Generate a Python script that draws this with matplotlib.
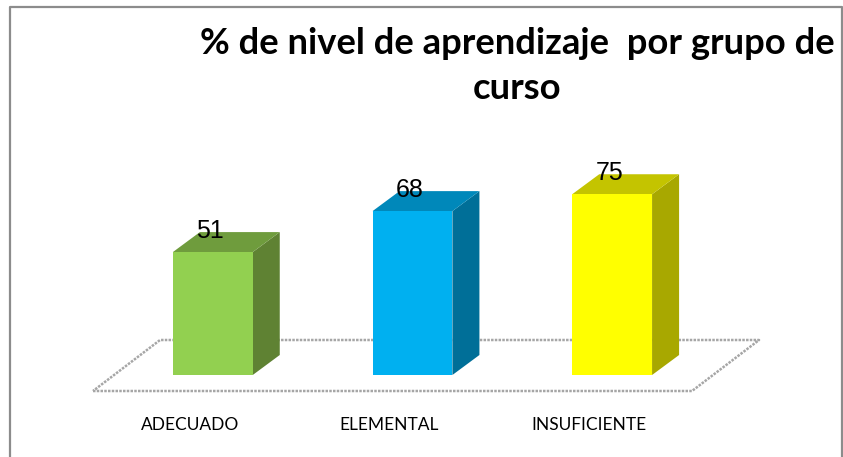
import matplotlib
matplotlib.use("Agg")
import matplotlib.pyplot as plt
from matplotlib.lines import Line2D
from matplotlib.patches import Polygon
from matplotlib.transforms import ScaledTranslation

categories = ["ADECUADO", "ELEMENTAL", "INSUFICIENTE"]
values = [51, 68, 75]
front_colors = ["#92D050", "#00B0F0", "#FFFF00"]
side_colors = ["#5F8233", "#006F98", "#A8A800"]
top_colors = ["#6F9C3D", "#0088BA", "#C4C400"]
title = "% de nivel de aprendizaje  por grupo de\ncurso"

W, H = 843, 457
DPI = 100
BAR_W = 0.4
# size of the fake 3d depth, in data units
DEPTH_X = 27 / 199.5
DEPTH_Y = 20 / 2.41

fig = plt.figure(figsize=(W / DPI, H / DPI), dpi=DPI)
fig.patch.set_facecolor("white")

# axes box runs along the front edge of the floor
ax = fig.add_axes([93 / W, 1 - 391 / H, 599 / W, 241 / H])
ax.set_xlim(-0.6, 2.4)
ax.set_ylim(-16 / 2.41, 225 / 2.41)
ax.patch.set_alpha(0)
for s in ax.spines.values():
    s.set_visible(False)

# floor
x0, x1 = -0.6, 2.4
y0 = -16 / 2.41
fx, fy = 67 / 199.5, 51 / 2.41
floor_x = [x0, x1, x1 + fx, x0 + fx, x0]
floor_y = [y0, y0, y0 + fy, y0 + fy, y0]
ax.plot(floor_x, floor_y, color="#a6a6a6", lw=1.8, ls=(0, (1, 0.5)), clip_on=False, zorder=1)

for i, v in enumerate(values):
    l, r = i - BAR_W / 2, i + BAR_W / 2
    ax.bar(i, v, BAR_W, color=front_colors[i], zorder=3)
    ax.add_patch(Polygon([(r, 0), (r + DEPTH_X, DEPTH_Y), (r + DEPTH_X, v + DEPTH_Y), (r, v)],
                         closed=True, fc=side_colors[i], ec="none", zorder=2))
    ax.add_patch(Polygon([(l, v), (r, v), (r + DEPTH_X, v + DEPTH_Y), (l + DEPTH_X, v + DEPTH_Y)],
                         closed=True, fc=top_colors[i], ec="none", zorder=2))
    ax.annotate(str(v), (i, v), xytext=(-2, 15.5), textcoords="offset points",
                ha="center", va="center", fontsize=18, family="Liberation Sans",
                color="black", zorder=5)

ax.set_yticks([])
ax.set_xticks(range(len(categories)))
ax.set_xticklabels(categories, fontsize=12.5, family="Lato", color="black")
ax.tick_params(axis="x", length=0, pad=19)
# labels sit left of the bars because of the perspective
shift = ScaledTranslation(-23 / DPI, 0, fig.dpi_scale_trans)
for lab in ax.get_xticklabels():
    lab.set_transform(lab.get_transform() + shift)

fig.text(517 / W, 1 - 66 / H, title, ha="center", va="center", fontsize=26.2,
         family="Lato", fontweight="bold", color="black", linespacing=1.42)

# chart border, no bottom edge in the crop
bx = [10 / W, 10 / W, 842 / W, 842 / W]
by = [0, 1 - 7 / H, 1 - 7 / H, 0]
fig.add_artist(Line2D(bx, by, color="#8c8c8c", lw=1.6, transform=fig.transFigure))

fig.savefig("out.png", dpi=DPI)
